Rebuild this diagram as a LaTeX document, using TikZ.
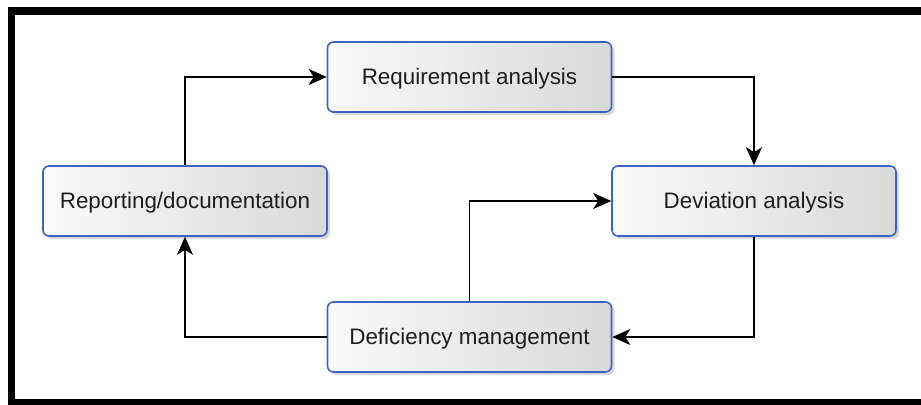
\documentclass[tikz,border=0pt]{standalone}
\usepackage{fontspec}
\setmainfont{Liberation Sans}
\usetikzlibrary{arrows.meta,shadows}
\definecolor{boxblue}{HTML}{3A64C2}
\definecolor{txtgray}{HTML}{1E1E1E}

\begin{document}
\begin{tikzpicture}[x=0.5pt, y=-0.5pt,
		proc/.style={draw=boxblue, line width=0.8pt, rectangle, rounded corners=3pt,
			left color=gray!4, right color=gray!30, minimum width=142pt, minimum height=35pt,
			inner sep=0pt, text height=8pt, text depth=0pt, text=txtgray,
			font=\fontsize{11.2}{13}\selectfont,
			drop shadow={shadow xshift=1.5pt, shadow yshift=-1.5pt, opacity=0.3, fill=gray}},
		flow/.style={-{Stealth[length=9pt, width=8pt, inset=2.5pt]}, line width=0.9pt}]
				% page and frame
				\fill[white] (0,0) rectangle (921,405);
				\useasboundingbox (0,0) rectangle (921,405);
				\fill[black] (8,7) rectangle (921,15);
				\fill[black] (8,7) rectangle (15,405);
				\fill[black] (8,399) rectangle (921,405);
				% steps
				\node[proc] (req)at(469.5, 77) {Requirement analysis};
				\node[proc] (dev)at(754, 201) {Deviation analysis};
				\node[proc] (def)at(469.5, 337) {Deficiency management};
				\node[proc] (rep)at(185, 201) {Reporting/documentation};
				% flow
				\draw[flow] (rep.north) |- (req.west);
				\draw[flow] (req.east) -| (dev.north);
				\draw[flow] (dev.south) |- (def.east);
				\draw[flow] (def.north) |- (dev.west);
				\draw[flow] (def.west) -| (rep.south);
			\end{tikzpicture}
\end{document}
